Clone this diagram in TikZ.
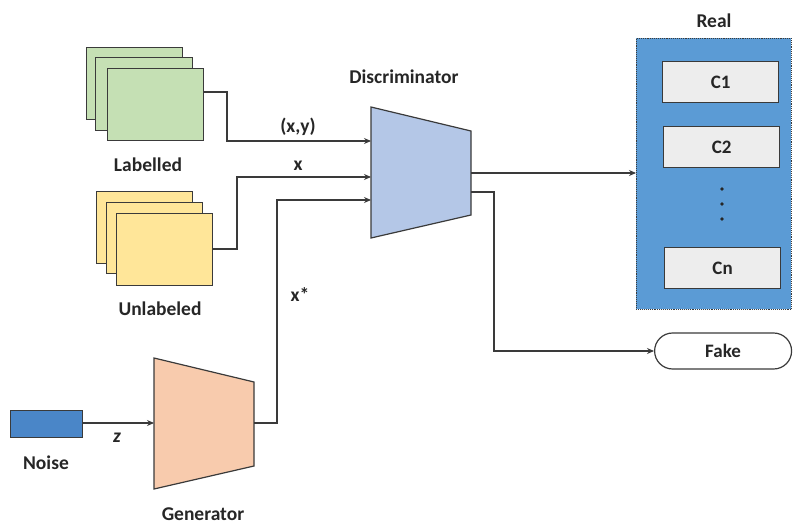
\documentclass[tikz,border=0pt]{standalone}
\usepackage{fontspec}
\setmainfont{Carlito}
\usetikzlibrary{arrows.meta,shapes.misc}
\definecolor{linegray}{HTML}{3A3A3A}
\definecolor{greenfill}{HTML}{C5E0B4}
\definecolor{yellowfill}{HTML}{FFE699}
\definecolor{discfill}{HTML}{B4C7E7}
\definecolor{genfill}{HTML}{F8CBAD}
\definecolor{realfill}{HTML}{5B9BD5}
\definecolor{noisefill}{HTML}{4A86C8}
\definecolor{cfill}{HTML}{EDEDED}
\tikzset{
  sheet/.style={draw=linegray, line width=1.2pt, inner sep=0pt, anchor=north west},
  lbl/.style={font=\bfseries\fontsize{19.5}{22}\selectfont, text=black!85},
  conn/.style={draw=linegray, line width=1.2pt, -{Stealth[length=7pt,width=6pt]}},
  plain/.style={draw=linegray, line width=1.2pt},
  cbox/.style={draw=linegray, line width=1.2pt, fill=cfill, inner sep=0pt, minimum width=116pt, minimum height=41pt, anchor=north west, font=\bfseries\fontsize{19}{22}\selectfont, text=black!85}
}
\begin{document}
\begin{tikzpicture}[x=1pt,y=-1pt]
\useasboundingbox (0,0) rectangle (793,527);
% Labelled stack
\node[sheet, fill=greenfill, minimum width=96pt, minimum height=72pt] (lb1) at (86,47) {};
\node[sheet, fill=greenfill, minimum width=97pt, minimum height=73pt] (lb2) at (95,57) {};
\node[sheet, fill=greenfill, minimum width=96pt, minimum height=72pt] (lb3) at (107,68) {};
\node[lbl] (labelled) at (148,165) {Labelled};
% Unlabeled stack
\node[sheet, fill=yellowfill, minimum width=96pt, minimum height=72pt] (ub1) at (96,191) {};
\node[sheet, fill=yellowfill, minimum width=96pt, minimum height=71pt] (ub2) at (106,202) {};
\node[sheet, fill=yellowfill, minimum width=96pt, minimum height=72pt] (ub3) at (116,213) {};
\node[lbl] (unlabeled) at (160,309) {Unlabeled};
% Discriminator
\coordinate (dtl) at (371,107);
\coordinate (dbl) at (371,238);
\coordinate (dtr) at (471,131);
\coordinate (dbr) at (471,215);
\draw[plain, fill=discfill] (dtl) -- (dtr) -- (dbr) -- (dbl) -- cycle;
\node[lbl] (disclabel) at (404,77) {Discriminator};
\coordinate (din1) at (371,141);
\coordinate (din2) at (371,177);
\coordinate (din3) at (371,200);
\coordinate (dout1) at (471,173);
\coordinate (dout2) at (471,192);
% Generator
\coordinate (gtl) at (154,358);
\coordinate (gbl) at (154,489);
\coordinate (gtr) at (254,382);
\coordinate (gbr) at (254,466);
\draw[plain, fill=genfill] (gtl) -- (gtr) -- (gbr) -- (gbl) -- cycle;
\node[lbl] (genlabel) at (203,514) {Generator};
\coordinate (gin) at (154,423);
\coordinate (gout) at (254,423);
% Noise
\node[sheet, fill=noisefill, minimum width=72pt, minimum height=27pt] (noise) at (10,410) {};
\node[lbl] (noiselabel) at (46,463) {Noise};
% Real box
\node[draw=linegray, densely dotted, line width=0.9pt, fill=realfill, inner sep=0pt, minimum width=155pt, minimum height=271pt, anchor=north west] (real) at (636,38) {};
\node[lbl] (reallabel) at (714,21) {Real};
\node[cbox] (c1) at (662,61) {C1};
\node[cbox] (c2) at (663,126) {C2};
\node[cbox] (cn) at (664,247) {Cn};
\foreach \yy in {189,204,219} \fill[black!85] (722,\yy) circle (1.9pt);
% Fake
\node[draw=linegray, line width=1.2pt, rounded rectangle, minimum width=137pt, minimum height=36pt, inner sep=0pt, anchor=west, font=\bfseries\fontsize{19}{22}\selectfont, text=black!85] (fake) at (654,351) {Fake};
% Connectors
\draw[conn] (lb3.east |- 0,92) -| (227,141) -- (din1);
\node[lbl] (xy) at (298,127) {(x,y)};
\draw[conn] (ub3.east |- 0,249) -| (237,177) -- (din2);
\node[lbl] (xl) at (298,166) {x};
\draw[conn] (gout) -| (277,200) -- (din3);
\node[lbl] (xs) at (300,295) {x*};
\draw[conn] (noise.east |- gin) -- (gin);
\node[lbl, font=\bfseries\itshape\fontsize{19.5}{22}\selectfont] (zl) at (117,438) {z};
\draw[conn] (dout1) -- (real.west |- dout1);
\draw[conn] (dout2) -| (494,351) -- (fake.west);
\end{tikzpicture}
\end{document}
